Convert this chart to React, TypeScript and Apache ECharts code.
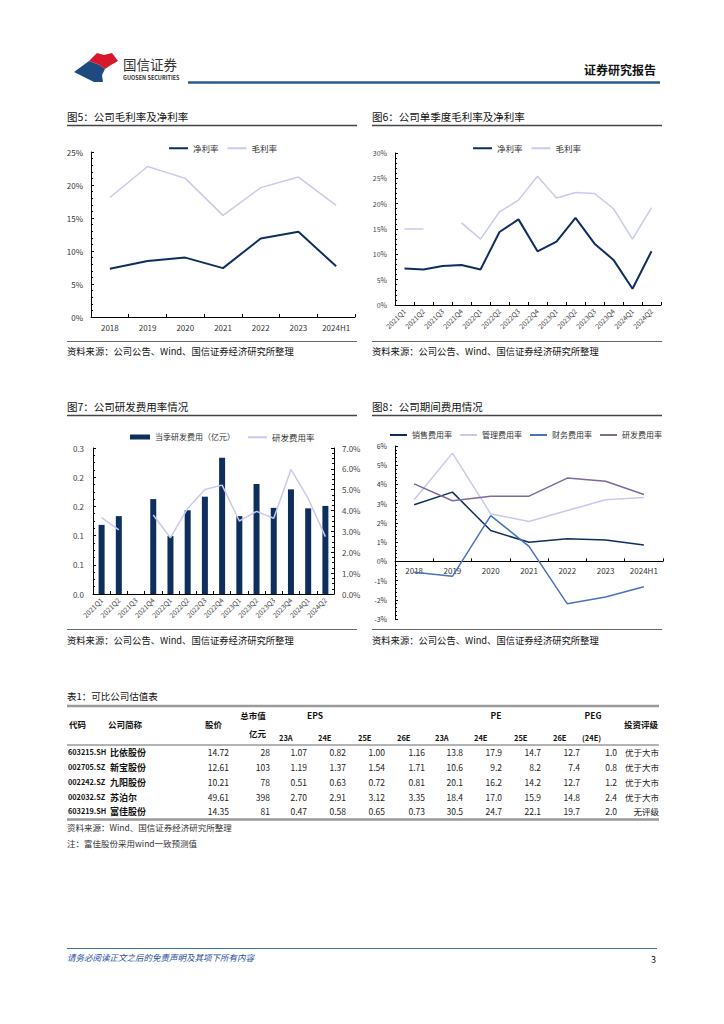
import React, { useEffect, useRef } from "react";
import * as echarts from "echarts";

// ---------- Chart 5 data ----------
const years = ["2018", "2019", "2020", "2021", "2022", "2023", "2024H1"];
const netMarginY = [7.3, 8.5, 9.0, 7.4, 11.9, 12.9, 7.7];
const grossMarginY = [18.1, 22.8, 21.0, 15.4, 19.6, 21.2, 16.9];

// ---------- Chart 6 data ----------
const quarters = ["2021Q1", "2021Q2", "2021Q3", "2021Q4", "2022Q1", "2022Q2", "2022Q3", "2022Q4", "2023Q1", "2023Q2", "2023Q3", "2023Q4", "2024Q1", "2024Q2"];
const netMarginQ = [7.2, 7.0, 7.7, 7.9, 7.0, 14.4, 16.9, 10.6, 12.5, 17.2, 12.1, 8.9, 3.2, 10.6];
const grossMarginQ = [15.0, 15.0, null, 16.2, 13.0, 18.4, 20.7, 25.4, 21.1, 22.2, 22.0, 19.0, 13.0, 19.2];

// ---------- Chart 7 data ----------
const rdExpense = [0.142, 0.16, null, 0.195, 0.119, 0.172, 0.2, 0.28, 0.16, 0.226, 0.177, 0.215, 0.176, 0.181];
const rdRatioQ = [3.66, 3.07, null, 3.79, 2.7, 4.1, 5.01, 5.22, 3.5, 3.96, 3.63, 5.97, 4.58, 2.75];

// ---------- Chart 8 data ----------
const sellingRatio = [2.94, 3.6, 1.6, 0.99, 1.17, 1.11, 0.85];
const adminRatio = [3.2, 5.63, 2.47, 2.07, 2.64, 3.2, 3.32];
const financeRatio = [-0.57, -0.78, 2.38, 0.78, -2.21, -1.86, -1.32];
const rdRatioY = [4.03, 3.15, 3.39, 3.39, 4.33, 4.17, 3.48];

// ---------- Table data ----------
const codes = ["603215.SH", "002705.SZ", "002242.SZ", "002032.SZ", "603219.SH"];
const names = ["比依股份", "新宝股份", "九阳股份", "苏泊尔", "富佳股份"];
const prices = ["14.72", "12.61", "10.21", "49.61", "14.35"];
const mktCaps = ["28", "103", "78", "398", "81"];
const eps23A = ["1.07", "1.19", "0.51", "2.70", "0.47"];
const eps24E = ["0.82", "1.37", "0.63", "2.91", "0.58"];
const eps25E = ["1.00", "1.54", "0.72", "3.12", "0.65"];
const eps26E = ["1.16", "1.71", "0.81", "3.35", "0.73"];
const pe23A = ["13.8", "10.6", "20.1", "18.4", "30.5"];
const pe24E = ["17.9", "9.2", "16.2", "17.0", "24.7"];
const pe25E = ["14.7", "8.2", "14.2", "15.9", "22.1"];
const pe26E = ["12.7", "7.4", "12.7", "14.8", "19.7"];
const pegs = ["1.0", "0.8", "1.2", "2.4", "2.0"];
const ratings = ["优于大市", "优于大市", "优于大市", "优于大市", "无评级"];

const FONT = "'Noto Sans CJK SC', 'Noto Sans', sans-serif";
const NAVY = "#0E2F5E";
const LAV = "#C9C9EF";
const MBLUE = "#4A72BE";
const PURP = "#7D6B9B";

function txt(x: number, y: number, t: string, o: any = {}) {
  return {
    type: "text",
    x,
    y,
    silent: true,
    style: {
      text: t,
      fontSize: o.size ?? 9,
      fontFamily: FONT,
      fontWeight: o.bold ? "bold" : "normal",
      fontStyle: o.italic ? "italic" : "normal",
      fill: o.color ?? "#222",
      align: o.align ?? "left",
      verticalAlign: "middle",
    },
  };
}
function hline(x1: number, x2: number, y: number, w: number, c: string) {
  return { type: "line", silent: true, shape: { x1, y1: y, x2, y2: y }, style: { stroke: c, lineWidth: w } };
}

export default function App() {
  const ref = useRef<HTMLDivElement>(null);
  useEffect(() => {
    if (!ref.current) return;
    const chart = echarts.init(ref.current, undefined, { renderer: "svg" });

    const axisLabel = { fontSize: 8, color: "#333", fontFamily: FONT };
    const axisLine = { show: true, lineStyle: { color: "#000", width: 1 } };
    const tick = { show: true, inside: true, length: 3, lineStyle: { color: "#000" } };
    const minor = { show: true, splitNumber: 5, length: 2, lineStyle: { color: "#000" } };

    const graphics: any[] = [];
    // header
    graphics.push({ type: "polygon", silent: true, shape: { points: [[74, 72], [89, 61], [100, 65], [105, 69], [102, 75], [103, 82], [94, 82]] }, style: { fill: "#1E4A82" } });
    graphics.push({ type: "polygon", silent: true, shape: { points: [[89, 61], [97, 53], [104, 55], [112, 53], [118, 61], [111, 65], [105, 69], [100, 65]] }, style: { fill: "#D7182A" } });
    graphics.push(txt(123, 64, "国信证券", { size: 13.5, color: "#333" }));
    graphics.push(txt(123, 78, "GUOSEN SECURITIES", { size: 5.5, bold: true, color: "#333" }));
    graphics.push(txt(656, 69, "证券研究报告", { size: 12, bold: true, color: "#111", align: "right" }));
    graphics.push(hline(188, 660, 82.5, 2.5, "#2A5A8C"));

    // chart titles
    graphics.push(txt(67, 116, "图5：公司毛利率及净利率", { size: 10.5, color: "#111" }));
    graphics.push(txt(372, 116, "图6：公司单季度毛利率及净利率", { size: 10.5, color: "#111" }));
    graphics.push(txt(67, 406, "图7：公司研发费用率情况", { size: 10.5, color: "#111" }));
    graphics.push(txt(372, 406, "图8：公司期间费用情况", { size: 10.5, color: "#111" }));
    graphics.push(hline(67, 357, 125.5, 1.5, "#444"));
    graphics.push(hline(372, 662, 125.5, 1.5, "#444"));
    graphics.push(hline(67, 357, 415.5, 1.5, "#444"));
    graphics.push(hline(372, 662, 415.5, 1.5, "#444"));
    graphics.push(hline(67, 357, 341.5, 1, "#666"));
    graphics.push(hline(372, 662, 341.5, 1, "#666"));
    graphics.push(hline(67, 357, 629.5, 1, "#666"));
    graphics.push(hline(372, 662, 629.5, 1, "#666"));
    const src = "资料来源：公司公告、Wind、国信证券经济研究所整理";
    graphics.push(txt(67, 351, src, { size: 9.3, color: "#111" }));
    graphics.push(txt(372, 351, src, { size: 9.3, color: "#111" }));
    graphics.push(txt(67, 640, src, { size: 9.3, color: "#111" }));
    graphics.push(txt(372, 640, src, { size: 9.3, color: "#111" }));

    // table
    graphics.push(txt(67, 696, "表1：可比公司估值表", { size: 9.5, color: "#111" }));
    graphics.push(hline(67, 659, 706, 2.5, "#9A9A9A"));
    graphics.push(hline(67, 659, 745, 1.5, "#9A9A9A"));
    graphics.push(hline(67, 659, 819.5, 2.5, "#9A9A9A"));
    const hb = { size: 8.5, bold: true, color: "#111" };
    graphics.push(txt(69, 724, "代码", hb));
    graphics.push(txt(108, 724, "公司简称", hb));
    graphics.push(txt(205, 724, "股价", hb));
    graphics.push(txt(253, 715, "总市值", { ...hb, align: "center" }));
    graphics.push(txt(266, 733, "亿元", { ...hb, align: "right" }));
    graphics.push(txt(315, 715, "EPS", { ...hb, align: "center" }));
    graphics.push(txt(496, 715, "PE", { ...hb, align: "center" }));
    graphics.push(txt(593, 715, "PEG", { ...hb, align: "center" }));
    graphics.push(txt(624, 724, "投资评级", hb));
    const subs = ["23A", "24E", "25E", "26E", "23A", "24E", "25E", "26E", "(24E)"];
    const subX = [279, 318, 358, 397, 435, 474, 514, 553, 582];
    subs.forEach((s, i) => graphics.push(txt(subX[i], 737, s, { size: 7.5, bold: true, color: "#111" })));
    const rowY = [752, 767, 782, 797, 811];
    const cols: [string[], number][] = [
      [prices, 229], [mktCaps, 270], [eps23A, 307], [eps24E, 346], [eps25E, 385], [eps26E, 425],
      [pe23A, 463], [pe24E, 502], [pe25E, 541], [pe26E, 580], [pegs, 617],
    ];
    rowY.forEach((y, r) => {
      graphics.push(txt(68, y, codes[r], { size: 7.3, bold: true, color: "#111" }));
      graphics.push(txt(110, y, names[r], { size: 9, bold: true, color: "#111" }));
      cols.forEach(([arr, x]) => graphics.push(txt(x, y, arr[r], { size: 8.5, color: "#222", align: "right" })));
      graphics.push(txt(659, y, ratings[r], { size: 8.5, color: "#222", align: "right" }));
    });
    graphics.push(txt(67, 827, "资料来源：Wind、国信证券经济研究所整理", { size: 8.5, color: "#333" }));
    graphics.push(txt(67, 843, "注：富佳股份采用wind一致预测值", { size: 8.5, color: "#333" }));

    // footer
    graphics.push(hline(67, 657, 948.5, 1, "#3C6E9E"));
    graphics.push(txt(67, 957, "请务必阅读正文之后的免责声明及其项下所有内容", { size: 8.5, italic: true, color: "#1F4E9A" }));
    graphics.push(txt(656, 959, "3", { size: 9, color: "#111", align: "right" }));

    const legText = { fontSize: 8.5, color: "#333", fontFamily: FONT };
    const lineLegend = (left: number, top: number, items: [string, string][], w = 19, gap = 9, fs = 8.5) => ({
      left, top, orient: "horizontal", icon: "rect", itemWidth: w, itemHeight: 2, itemGap: gap,
      textStyle: { ...legText, fontSize: fs }, selectedMode: false,
      data: items.map(([n, c]) => ({ name: n, itemStyle: { color: c } })),
    });

    // chart 8 grid geometry (zero line placement)
    const g8Top = 446, g8H = 173, yMin8 = -3, yMax8 = 6;
    const zeroOffset = -(g8H * (0 - yMin8)) / (yMax8 - yMin8);

    const option: any = {
      animation: false,
      backgroundColor: "#fff",
      textStyle: { fontFamily: FONT },
      legend: [
        lineLegend(164, 139, [["净利率", NAVY], ["毛利率", LAV]]),
        lineLegend(468, 139, [["净利率", NAVY], ["毛利率", LAV]]),
        { left: 125, top: 428, icon: "rect", itemWidth: 20, itemHeight: 5, textStyle: { ...legText, fontSize: 8 }, selectedMode: false, data: [{ name: "当季研发费用（亿元）", itemStyle: { color: NAVY } }] },
        { left: 243, top: 428, icon: "rect", itemWidth: 19, itemHeight: 2, textStyle: { ...legText, fontSize: 8.5 }, selectedMode: false, data: [{ name: "研发费用率", itemStyle: { color: LAV } }] },
        lineLegend(385, 426, [["销售费用率", NAVY], ["管理费用率", LAV], ["财务费用率", MBLUE], ["研发费用率", PURP]], 17, 8, 8),
      ],
      grid: [
        { left: 91, top: 152, width: 264, height: 165 },
        { left: 395, top: 153, width: 266, height: 152 },
        { left: 93, top: 448, width: 241, height: 146 },
        { left: 395, top: g8Top, width: 268, height: g8H },
      ],
      xAxis: [
        { type: "category", gridIndex: 0, data: years, axisLine, axisTick: tick, axisLabel: { ...axisLabel, margin: 6 } },
        { type: "category", gridIndex: 1, data: quarters, axisLine, axisTick: tick, axisLabel: { ...axisLabel, fontSize: 7, rotate: 45, interval: 0, margin: 5, color: "#444" } },
        { type: "category", gridIndex: 2, data: quarters, axisLine, axisTick: tick, axisLabel: { ...axisLabel, fontSize: 7, rotate: 45, interval: 0, margin: 5, color: "#444" } },
        { type: "category", gridIndex: 3, data: years, position: "bottom", offset: zeroOffset, axisLine: { ...axisLine, onZero: false }, axisTick: tick, axisLabel: { ...axisLabel, margin: 5 } },
      ],
      yAxis: [
        { type: "value", gridIndex: 0, min: 0, max: 25, interval: 5, axisLine, axisTick: tick, minorTick: minor, splitLine: { show: false }, axisLabel: { ...axisLabel, formatter: (v: number) => v + "%" } },
        { type: "value", gridIndex: 1, min: 0, max: 30, interval: 5, axisLine, axisTick: tick, minorTick: minor, splitLine: { show: false }, axisLabel: { ...axisLabel, fontSize: 7, color: "#444", formatter: (v: number) => v + "%" } },
        { type: "value", gridIndex: 2, min: 0, max: 0.3, interval: 0.06, axisLine, axisTick: tick, minorTick: { ...minor, splitNumber: 4 }, splitLine: { show: false }, axisLabel: { ...axisLabel, margin: 9, color: "#444", formatter: (v: number) => v.toFixed(1) } },
        { type: "value", gridIndex: 2, position: "right", min: 0, max: 7, interval: 1, axisLine, axisTick: tick, minorTick: { ...minor, splitNumber: 4 }, splitLine: { show: false }, axisLabel: { ...axisLabel, color: "#444", formatter: (v: number) => v.toFixed(1) + "%" } },
        { type: "value", gridIndex: 3, min: yMin8, max: yMax8, interval: 1, axisLine, axisTick: tick, minorTick: minor, splitLine: { show: false }, axisLabel: { ...axisLabel, fontSize: 7, formatter: (v: number) => v + "%" } },
      ],
      series: [
        { name: "毛利率", type: "line", xAxisIndex: 0, yAxisIndex: 0, data: grossMarginY, symbol: "none", lineStyle: { color: LAV, width: 1.5 }, itemStyle: { color: LAV } },
        { name: "净利率", type: "line", xAxisIndex: 0, yAxisIndex: 0, data: netMarginY, symbol: "none", lineStyle: { color: NAVY, width: 2 }, itemStyle: { color: NAVY } },
        { name: "毛利率", type: "line", xAxisIndex: 1, yAxisIndex: 1, data: grossMarginQ, symbol: "none", connectNulls: false, lineStyle: { color: LAV, width: 1.5 }, itemStyle: { color: LAV } },
        { name: "净利率", type: "line", xAxisIndex: 1, yAxisIndex: 1, data: netMarginQ, symbol: "none", lineStyle: { color: NAVY, width: 2 }, itemStyle: { color: NAVY } },
        { name: "当季研发费用（亿元）", type: "bar", xAxisIndex: 2, yAxisIndex: 2, data: rdExpense, barWidth: 6, itemStyle: { color: NAVY } },
        { name: "研发费用率", type: "line", xAxisIndex: 2, yAxisIndex: 3, data: rdRatioQ, symbol: "none", connectNulls: false, lineStyle: { color: LAV, width: 1.5 }, itemStyle: { color: LAV } },
        { name: "销售费用率", type: "line", xAxisIndex: 3, yAxisIndex: 4, data: sellingRatio, symbol: "none", lineStyle: { color: NAVY, width: 1.5 }, itemStyle: { color: NAVY } },
        { name: "管理费用率", type: "line", xAxisIndex: 3, yAxisIndex: 4, data: adminRatio, symbol: "none", lineStyle: { color: LAV, width: 1.5 }, itemStyle: { color: LAV } },
        { name: "财务费用率", type: "line", xAxisIndex: 3, yAxisIndex: 4, data: financeRatio, symbol: "none", lineStyle: { color: MBLUE, width: 1.5 }, itemStyle: { color: MBLUE } },
        { name: "研发费用率", type: "line", xAxisIndex: 3, yAxisIndex: 4, data: rdRatioY, symbol: "none", lineStyle: { color: PURP, width: 1.5 }, itemStyle: { color: PURP } },
      ],
      graphic: graphics,
    };
    chart.setOption(option);
    return () => chart.dispose();
  }, []);
  return <div ref={ref} style={{ position: "absolute", left: 0, top: 0, width: 724, height: 1024, background: "#fff" }} />;
}
